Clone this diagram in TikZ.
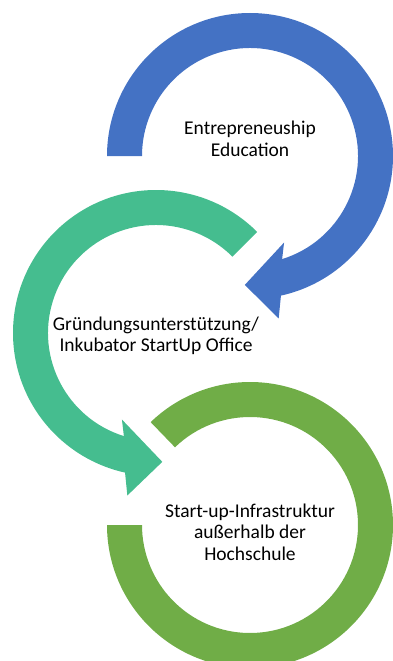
\documentclass[tikz,border=0pt]{standalone}
\usepackage{fontspec}
\setmainfont{Carlito}
\usetikzlibrary{calc}
\definecolor{arrowblue}{HTML}{4472C4}
\definecolor{arrowteal}{HTML}{45BD8F}
\definecolor{arrowolive}{HTML}{70AD47}
\begin{document}
\begin{tikzpicture}[x=1pt,y=1pt,
  ringfill/.style={fill=#1,draw=none},
  label/.style={align=center,font=\fontsize{19.5}{21.5}\selectfont,text=black,inner sep=0pt}]
\useasboundingbox (0,0) rectangle (393,-661);
\clip (0,0) rectangle (393,-661);
% centres
\coordinate (cb) at (250,-156);
\coordinate (cg) at (156,-333);
\coordinate (co) at (250,-525);
% blue arrow
\path[ringfill=arrowblue] ($(cb)+(180:143)$) arc[start angle=180,end angle=-77.5,radius=143]
  -- ($(cb)+(-80:165)$) -- ($(cb)+(-92.3:129)$) -- ($(cb)+(-68.5:93)$)
  -- ($(cb)+(-72.7:108)$) arc[start angle=-72.7,end angle=180,radius=108] -- cycle;
% teal arrow
\path[ringfill=arrowteal] ($(cg)+(45:143)$) arc[start angle=45,end angle=257.5,radius=143]
  -- ($(cg)+(260:165)$) -- ($(cg)+(272.8:129)$) -- ($(cg)+(248.5:93)$)
  -- ($(cg)+(252.7:108)$) arc[start angle=252.7,end angle=45,radius=108] -- cycle;
% olive ring
\path[ringfill=arrowolive] ($(co)+(180:143)$) arc[start angle=180,end angle=494,radius=143]
  -- ($(co)+(494:108)$) arc[start angle=494,end angle=180,radius=108] -- cycle;
% labels
\node[label] (tb) at (250,-139) {Entrepreneuship\\Education};
\node[label] (tg) at (156,-336) {Gründungsunterstützung/\\Inkubator StartUp Office};
\node[label] (to) at (250,-532) {Start-up-Infrastruktur\\außerhalb der\\Hochschule};
\end{tikzpicture}
\end{document}
